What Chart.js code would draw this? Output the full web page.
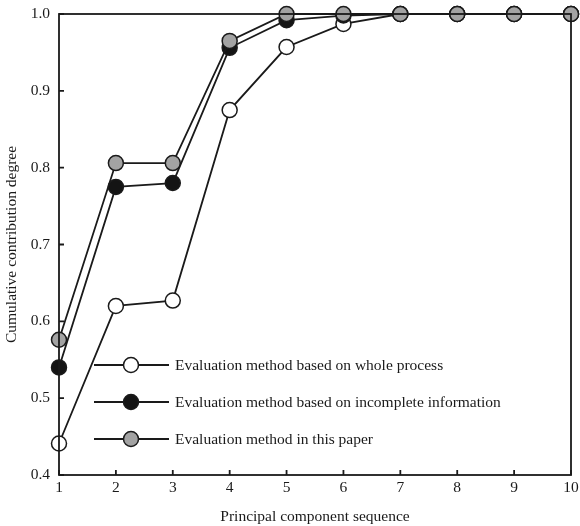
<!DOCTYPE html>
<html>
<head>
<meta charset="utf-8">
<script src="https://cdn.jsdelivr.net/npm/chart.js@4.4.1/dist/chart.umd.min.js"></script>
<style>
  html, body { margin: 0; padding: 0; background: #fff; }
  #wrap { width: 580px; height: 526px; }
</style>
</head>
<body>
<div id="wrap"><canvas id="c" width="580" height="526"></canvas></div>
<script>
// principal component index
const components = [1, 2, 3, 4, 5, 6, 7, 8, 9, 10];
// cumulative contribution
const wholeProcess = [0.441, 0.620, 0.627, 0.875, 0.957, 0.987, 1.0, 1.0, 1.0, 1.0];
const incompleteInfo = [0.540, 0.775, 0.780, 0.956, 0.992, 0.998, 1.0, 1.0, 1.0, 1.0];
const thisPaper = [0.576, 0.806, 0.806, 0.965, 1.0, 1.0, 1.0, 1.0, 1.0, 1.0];
const seriesNames = [
  'Evaluation method based on whole process',
  'Evaluation method based on incomplete information',
  'Evaluation method in this paper'
];
const fills = ['#ffffff', '#141414', '#a3a3a3'];
const yTicks = [0.4, 0.5, 0.6, 0.7, 0.8, 0.9, 1.0];

const FONT = "'Liberation Serif', 'DejaVu Serif', serif";
const FS = 15.5;
const INK = '#1a1a1a';

function toPoints(vals) {
  var pts = [];
  for (var i = 0; i < components.length; i++) {
    pts.push({ x: components[i], y: vals[i] });
  }
  return pts;
}

// order: higher is drawn first, so the grey series ends on top
function makeSet(label, vals, fill, order) {
  return {
    label: label,
    data: toPoints(vals),
    order: order,
    borderColor: INK,
    borderWidth: 1.8,
    backgroundColor: fill,
    pointBackgroundColor: fill,
    pointBorderColor: INK,
    pointBorderWidth: 1.5,
    pointRadius: 7.5,
    pointHoverRadius: 7.5,
    tension: 0,
    clip: false
  };
}

// box round the plot + inward ticks on left/bottom
const framePlugin = {
  id: 'frame',
  afterDraw: function (chart) {
    var ctx = chart.ctx, a = chart.chartArea;
    var xs = chart.scales.x, ys = chart.scales.y;
    ctx.save();
    ctx.strokeStyle = INK;
    ctx.lineWidth = 1.8;
    ctx.strokeRect(a.left, a.top, a.right - a.left, a.bottom - a.top);
    ctx.beginPath();
    for (var i = 0; i < components.length; i++) {
      var px = xs.getPixelForValue(components[i]);
      ctx.moveTo(px, a.bottom);
      ctx.lineTo(px, a.bottom - 5);
    }
    for (var j = 0; j < yTicks.length; j++) {
      var py = ys.getPixelForValue(yTicks[j]);
      ctx.moveTo(a.left, py);
      ctx.lineTo(a.left + 5, py);
    }
    ctx.stroke();
    ctx.restore();
  }
};

// legend drawn inside the plot, lower left
const insideLegend = {
  id: 'insideLegend',
  afterDatasetsDraw: function (chart) {
    var ctx = chart.ctx;
    var x0 = 94, x1 = 169, y0 = 365, gap = 37;
    ctx.save();
    ctx.font = FS + 'px ' + FONT;
    ctx.textBaseline = 'middle';
    chart.data.datasets.forEach(function (ds, i) {
      var y = y0 + i * gap;
      ctx.strokeStyle = INK;
      ctx.lineWidth = 1.8;
      ctx.beginPath();
      ctx.moveTo(x0, y);
      ctx.lineTo(x1, y);
      ctx.stroke();
      ctx.beginPath();
      ctx.arc((x0 + x1) / 2 - 0.5, y, 7.5, 0, Math.PI * 2);
      ctx.fillStyle = ds.pointBackgroundColor;
      ctx.fill();
      ctx.lineWidth = 1.5;
      ctx.stroke();
      ctx.fillStyle = INK;
      ctx.fillText(ds.label, 175, y + 1);
    });
    ctx.restore();
  }
};

new Chart(document.getElementById('c'), {
  type: 'line',
  data: {
    datasets: [
      makeSet(seriesNames[0], wholeProcess, fills[0], 3),
      makeSet(seriesNames[1], incompleteInfo, fills[1], 2),
      makeSet(seriesNames[2], thisPaper, fills[2], 1)
    ]
  },
  options: {
    responsive: false,
    animation: false,
    events: [],
    layout: { padding: { left: 0, right: 4, top: 14, bottom: 0 } },
    plugins: {
      legend: { display: false },
      tooltip: { enabled: false }
    },
    scales: {
      x: {
        type: 'linear',
        min: 1,
        max: 10,
        afterFit: function (s) {
          s.height = 51;
          s.paddingLeft = 0;
          s.paddingRight = 0;
        },
        afterBuildTicks: function (s) {
          s.ticks = components.map(function (v) { return { value: v }; });
        },
        grid: { display: false, drawTicks: false },
        border: { display: false },
        ticks: {
          color: INK,
          padding: 4,
          font: { family: FONT, size: FS },
          maxRotation: 0,
          autoSkip: false
        },
        title: {
          display: true,
          text: 'Principal component sequence',
          color: INK,
          font: { family: FONT, size: FS },
          padding: { top: 9, bottom: 0 }
        }
      },
      y: {
        min: 0.4,
        max: 1.0,
        afterFit: function (s) {
          s.width = 59;
          s.paddingTop = 0;
          s.paddingBottom = 0;
        },
        afterBuildTicks: function (s) {
          s.ticks = yTicks.map(function (v) { return { value: v }; });
        },
        grid: { display: false, drawTicks: false },
        border: { display: false },
        ticks: {
          color: INK,
          padding: 9,
          font: { family: FONT, size: FS },
          callback: function (v) { return v.toFixed(1); }
        },
        title: {
          display: true,
          text: 'Cumulative contribution degree',
          color: INK,
          font: { family: FONT, size: FS },
          padding: { top: 3, bottom: 0 }
        }
      }
    }
  },
  plugins: [framePlugin, insideLegend]
});
</script>
</body>
</html>
